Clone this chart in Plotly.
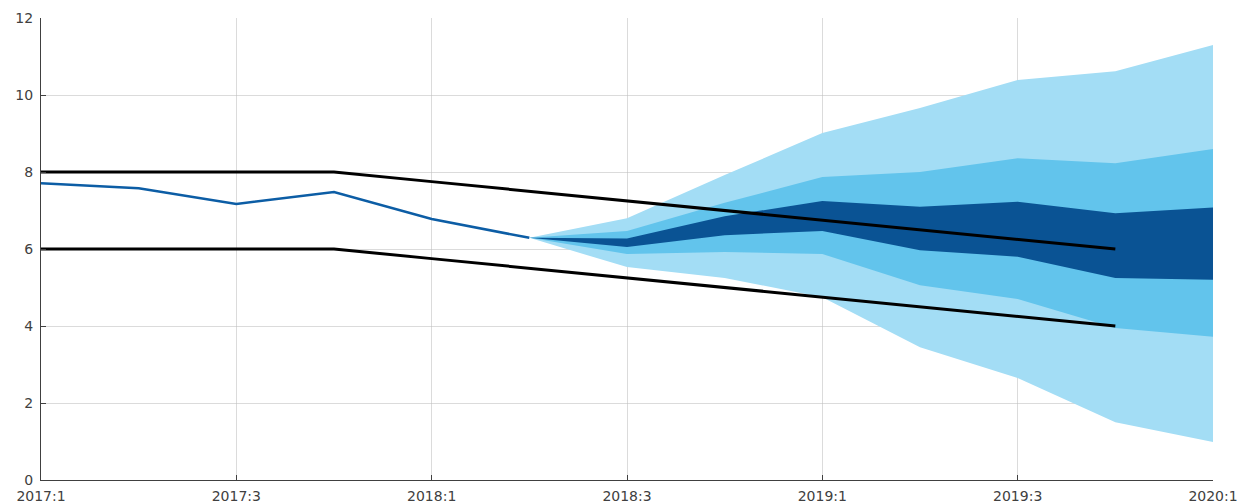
import plotly.graph_objects as go

# quarters 2017:1 .. 2020:1 as index 0..12
quarters = ["2017:1", "2017:2", "2017:3", "2017:4", "2018:1", "2018:2", "2018:3",
            "2018:4", "2019:1", "2019:2", "2019:3", "2019:4", "2020:1"]
tick_labels = ["2017:1", "2017:3", "2018:1", "2018:3", "2019:1", "2019:3", "2020:1"]

# history (2017:1 .. 2018:2)
actual = [7.71, 7.58, 7.17, 7.48, 6.78, 6.29]

# target band bounds (2017:1 .. 2019:4)
band_upper = [8, 8, 8, 8, 7.75, 7.5, 7.25, 7.0, 6.75, 6.5, 6.25, 6.0]
band_lower = [6, 6, 6, 6, 5.75, 5.5, 5.25, 5.0, 4.75, 4.5, 4.25, 4.0]

# fan chart (2018:2 .. 2020:1)
outer_hi = [6.29, 6.80, 7.92, 9.01, 9.66, 10.39, 10.62, 11.30]
outer_lo = [6.29, 5.53, 5.25, 4.75, 3.45, 2.65, 1.50, 0.99]
mid_hi = [6.29, 6.47, 7.20, 7.87, 8.00, 8.36, 8.23, 8.60]
mid_lo = [6.29, 5.87, 5.92, 5.87, 5.06, 4.70, 3.95, 3.72]
inner_hi = [6.29, 6.27, 6.85, 7.25, 7.10, 7.23, 6.93, 7.08]
inner_lo = [6.29, 6.05, 6.36, 6.47, 5.97, 5.80, 5.25, 5.20]

x_all = list(range(len(quarters)))
x_fan = x_all[5:]

fig = go.Figure()

def band(hi, lo, color):
    xs = x_fan + x_fan[::-1]
    ys = hi + lo[::-1]
    fig.add_trace(go.Scatter(x=xs, y=ys, fill="toself", fillcolor=color,
                             mode="lines", line=dict(width=0, color=color),
                             hoverinfo="skip", showlegend=False))

band(outer_hi, outer_lo, "#A3DDF5")
band(mid_hi, mid_lo, "#62C4EC")
band(inner_hi, inner_lo, "#0A5394")

fig.add_trace(go.Scatter(x=x_all[:len(band_upper)], y=band_upper, mode="lines",
                         line=dict(color="black", width=3), showlegend=False))
fig.add_trace(go.Scatter(x=x_all[:len(band_lower)], y=band_lower, mode="lines",
                         line=dict(color="black", width=3), showlegend=False))
fig.add_trace(go.Scatter(x=x_all[:len(actual)], y=actual, mode="lines",
                         line=dict(color="#0C5DA5", width=2.5), showlegend=False))

tick_idx = [quarters.index(t) for t in tick_labels]

# page body has an 8px default margin; size the figure so the plot area
# lands where the reference has it
fig.update_layout(
    width=1241, height=495,
    margin=dict(l=33, r=36, t=10, b=23),
    paper_bgcolor="white", plot_bgcolor="white",
    font=dict(family="DejaVu Sans", size=14, color="#404040"),
    xaxis=dict(range=[0, 12], tickvals=tick_idx, ticktext=tick_labels,
               showgrid=True, gridcolor="rgba(190,190,190,0.55)", gridwidth=1,
               ticks="inside", ticklen=5, tickcolor="#404040",
               showline=True, linecolor="#404040", linewidth=1,
               zeroline=False, layer="above traces", fixedrange=True,
               automargin=False, ticklabelstandoff=3),
    yaxis=dict(range=[0, 12], dtick=2, tick0=0,
               showgrid=True, gridcolor="rgba(190,190,190,0.55)", gridwidth=1,
               ticks="inside", ticklen=5, tickcolor="#404040",
               showline=True, linecolor="#404040", linewidth=1,
               zeroline=False, layer="above traces", fixedrange=True,
               automargin=False, ticklabelstandoff=4),
)

fig.write_html("out.html")
